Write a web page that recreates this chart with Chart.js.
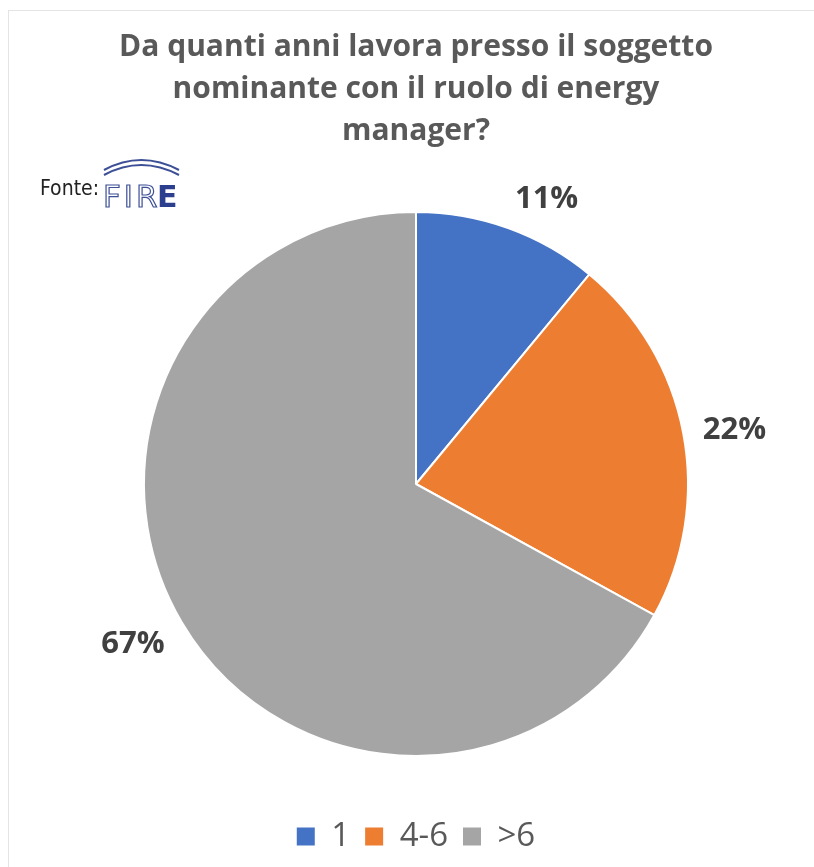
<!DOCTYPE html>
<html>
<head>
<meta charset="utf-8">
<script src="https://cdn.jsdelivr.net/npm/chart.js@4"></script>
<style>
    html, body { margin: 0; padding: 0; background: #fff; }
    #wrap { position: relative; width: 814px; height: 867px; }
    #wrap::before {
        content: ''; position: absolute; left: 8px; top: 10px; right: 0; bottom: 0;
        border-left: 1px solid #e4e4e4; border-top: 1px solid #e4e4e4;
    }
    #pie { position: absolute; left: 0; top: 0; }
</style>
</head>
<body>
<div id="wrap">
    <canvas id="pie" width="814" height="867"></canvas>
</div>
<script>
// Data
const titleLines = [
    'Da quanti anni lavora presso il soggetto',
    'nominante con il ruolo di energy',
    'manager?'
];
const categories = ['1', '4-6', '>6'];
const shares = [11, 22, 67];
const sliceColors = ['#4472C4', '#ED7D31', '#A5A5A5'];

// Percent labels placed just outside each slice
const outsideLabels = {
    id: 'outsideLabels',
    afterDatasetsDraw(chart) {
        const ctx = chart.ctx;
        const meta = chart.getDatasetMeta(0);
        ctx.save();
        ctx.font = 'bold 31px "Open Sans", sans-serif';
        ctx.fillStyle = '#404040';
        ctx.textAlign = 'center';
        ctx.textBaseline = 'middle';
        meta.data.forEach((arc, i) => {
            const p = arc.getProps(['x', 'y', 'startAngle', 'endAngle', 'outerRadius'], true);
            const mid = (p.startAngle + p.endAngle) / 2;
            const ux = Math.cos(mid), uy = Math.sin(mid);
            const d = p.outerRadius + 20;
            const text = shares[i] + '%';
            const w = ctx.measureText(text).width;
            const h = 30;
            const cx = p.x + ux * d + Math.sign(ux) * w / 2;
            const cy = p.y + uy * d + uy * h / 2 + 4;
            ctx.fillText(text, cx, cy);
        });
        ctx.restore();
    }
};

// "Fonte:" with the FIRE mark in the top-left corner
const sourceMark = {
    id: 'sourceMark',
    afterDraw(chart) {
        const ctx = chart.ctx;
        ctx.save();
        ctx.fillStyle = '#222';
        ctx.font = '21px "Liberation Sans Narrow", "DejaVu Sans Condensed", sans-serif';
        ctx.fillText('Fonte:', 40, 190);

        // arcs over the letters
        ctx.strokeStyle = '#3d4f96';
        ctx.lineWidth = 2;
        [0, 5].forEach(off => {
            ctx.beginPath();
            ctx.moveTo(104, 175 - off);
            ctx.quadraticCurveTo(141, 155 - off, 179, 175 - off);
            ctx.stroke();
        });
        ctx.lineWidth = 1.2;
        ctx.letterSpacing = '3px';
        ctx.font = '31px "DejaVu Sans", sans-serif';
        ctx.strokeText('FIR', 103, 199);
        ctx.letterSpacing = '0px';
        ctx.font = 'bold 30px "DejaVu Sans", sans-serif';
        ctx.fillStyle = '#2c3f8f';
        ctx.fillText('E', 157, 199);
        ctx.restore();
    }
};

new Chart(document.getElementById('pie'), {
    type: 'pie',
    data: {
        labels: categories,
        datasets: [{
            data: shares,
            backgroundColor: sliceColors,
            borderColor: '#ffffff',
            borderWidth: 2,
            radius: 272
        }]
    },
    options: {
        responsive: false,
        animation: false,
        layout: {
            padding: { left: 18, right: 0, top: 0, bottom: 4 }
        },
        plugins: {
            title: {
                display: true,
                text: titleLines,
                color: '#595959',
                font: { family: '"Open Sans", sans-serif', size: 30, weight: 'bold', lineHeight: 1.4 },
                padding: { top: 26, bottom: 11 }
            },
            legend: {
                position: 'bottom',
                labels: {
                    color: '#595959',
                    font: { family: '"Open Sans", sans-serif', size: 33 },
                    boxWidth: 18,
                    boxHeight: 18,
                    padding: 15,
                    generateLabels(chart) {
                        return Chart.overrides.pie.plugins.legend.labels.generateLabels(chart)
                            .map(item => ({ ...item, lineWidth: 0 }));
                    }
                }
            },
            tooltip: { enabled: false }
        }
    },
    plugins: [outsideLabels, sourceMark]
});
</script>
</body>
</html>
